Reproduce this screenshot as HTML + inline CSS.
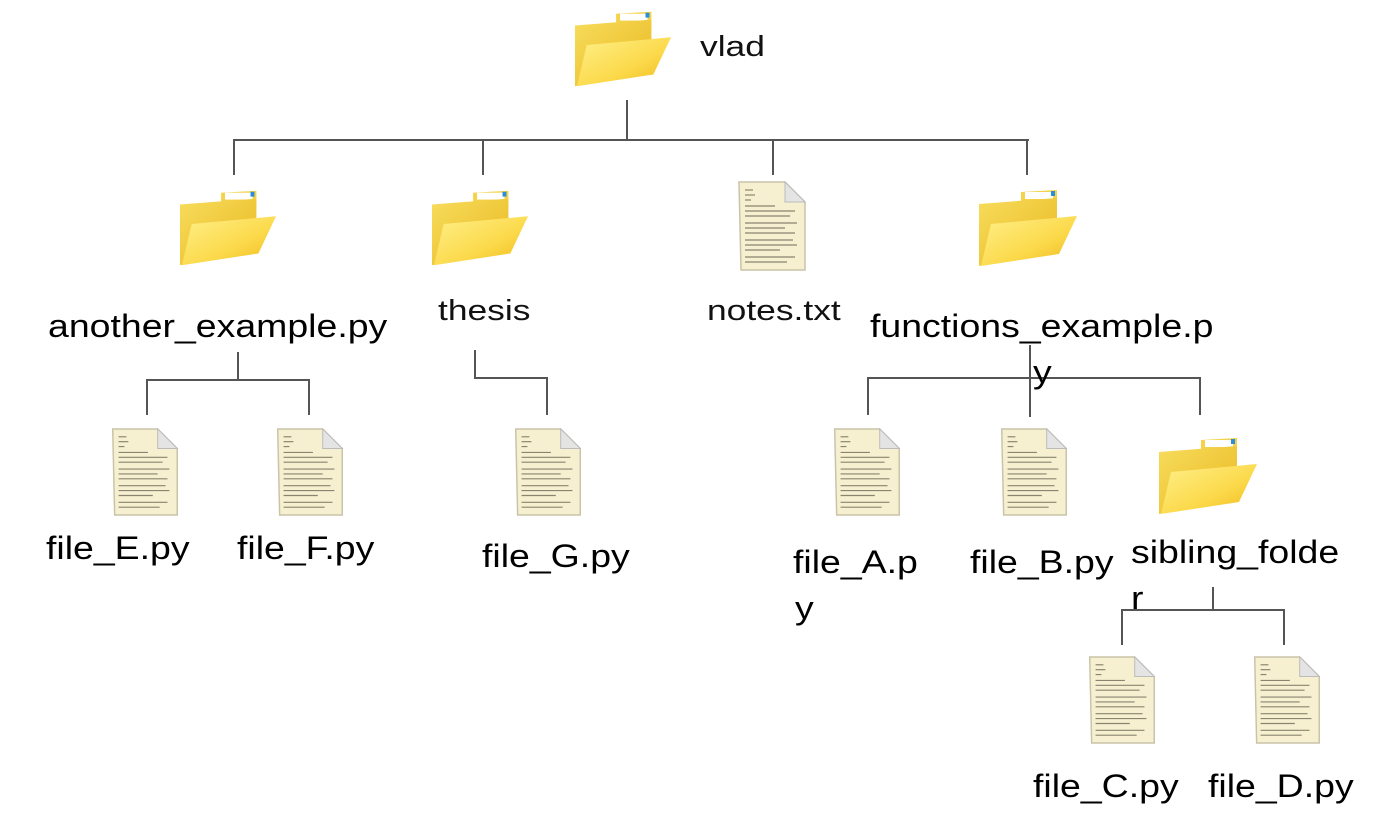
<!DOCTYPE html>
<html><head><meta charset="utf-8"><style>
body{margin:0;width:1386px;height:830px;background:#fff;position:relative;overflow:hidden;font-family:"Liberation Sans",Arial,sans-serif;}
.t{position:absolute;color:#000;white-space:nowrap;line-height:1;transform-origin:0 0;}
.s{font-size:32px;transform:scaleX(1.17);}
.m{font-size:29px;color:#111;transform:scaleX(1.22);}
svg.i{position:absolute;}
.l{position:absolute;background:#555;}
</style></head><body>
<svg width="0" height="0" style="position:absolute">
<defs>
<linearGradient id="gb" x1="0" y1="0" x2="1" y2="1"><stop offset="0" stop-color="#f7dc5c"/><stop offset="1" stop-color="#e9b820"/></linearGradient>
<linearGradient id="gf" x1="0" y1="0" x2="1" y2="1"><stop offset="0" stop-color="#fff08a"/><stop offset="0.6" stop-color="#fbd94a"/><stop offset="1" stop-color="#f0b81a"/></linearGradient>
<symbol id="fold" viewBox="0 0 100 82">
<path d="M44 6 L80 4 L80 22 L44 24Z" fill="#f4d24a"/>
<rect x="48" y="6" width="28" height="7" fill="#fff"/>
<rect x="74" y="5" width="4" height="5" fill="#2a8fd8"/>
<path d="M2 18 L80 12 L80 60 L2 80Z" fill="url(#gb)"/>
<path d="M14 38 L100 30 L82 68 L4 80Z" fill="url(#gf)"/>
</symbol>
<symbol id="doc" viewBox="0 0 72 92">
<path d="M4 2 L50 2 L70 22 L70 90 L6 90Z" fill="#f6f0d0" stroke="#c9c3a8" stroke-width="1.5"/>
<path d="M50 2 L50 22 L70 22Z" fill="#e4e4e4" stroke="#bbb" stroke-width="1"/>
<g stroke="#8a8470" stroke-width="1.2">
<line x1="10" y1="10" x2="18" y2="10"/><line x1="10" y1="15" x2="20" y2="15"/><line x1="10" y1="20" x2="16" y2="20"/>
<line x1="10" y1="26" x2="40" y2="26"/><line x1="10" y1="31" x2="60" y2="31"/><line x1="10" y1="36" x2="55" y2="36"/>
<line x1="10" y1="43" x2="62" y2="43"/><line x1="10" y1="48" x2="50" y2="48"/><line x1="10" y1="53" x2="60" y2="53"/>
<line x1="10" y1="60" x2="58" y2="60"/><line x1="10" y1="65" x2="62" y2="65"/><line x1="10" y1="70" x2="45" y2="70"/>
<line x1="10" y1="77" x2="60" y2="77"/><line x1="10" y1="82" x2="52" y2="82"/>
</g>
</symbol>
</defs></svg>

<div class="l" style="left:626px;top:100px;width:2px;height:41px"></div>
<div class="l" style="left:233px;top:139px;width:796px;height:2px"></div>
<div class="l" style="left:233px;top:139px;width:2px;height:36px"></div>
<div class="l" style="left:482px;top:139px;width:2px;height:36px"></div>
<div class="l" style="left:772px;top:139px;width:2px;height:36px"></div>
<div class="l" style="left:1026px;top:139px;width:2px;height:36px"></div>

<div class="l" style="left:237px;top:352px;width:2px;height:29px"></div>
<div class="l" style="left:146px;top:379px;width:164px;height:2px"></div>
<div class="l" style="left:146px;top:379px;width:2px;height:36px"></div>
<div class="l" style="left:308px;top:379px;width:2px;height:36px"></div>

<div class="l" style="left:474px;top:350px;width:2px;height:29px"></div>
<div class="l" style="left:474px;top:377px;width:74px;height:2px"></div>
<div class="l" style="left:546px;top:377px;width:2px;height:38px"></div>

<div class="l" style="left:867px;top:377px;width:334px;height:2px"></div>
<div class="l" style="left:867px;top:377px;width:2px;height:38px"></div>
<div class="l" style="left:1029px;top:345px;width:2px;height:72px"></div>
<div class="l" style="left:1199px;top:377px;width:2px;height:38px"></div>

<div class="l" style="left:1212px;top:587px;width:2px;height:24px"></div>
<div class="l" style="left:1121px;top:609px;width:164px;height:2px"></div>
<div class="l" style="left:1121px;top:609px;width:2px;height:36px"></div>
<div class="l" style="left:1283px;top:609px;width:2px;height:36px"></div>

<svg class="i" style="left:573px;top:7px" width="98" height="82"><use href="#fold"/></svg>
<svg class="i" style="left:178px;top:186px" width="98" height="82"><use href="#fold"/></svg>
<svg class="i" style="left:430px;top:186px" width="98" height="82"><use href="#fold"/></svg>
<svg class="i" style="left:977px;top:186px" width="100" height="82"><use href="#fold"/></svg>
<svg class="i" style="left:1157px;top:434px" width="100" height="82"><use href="#fold"/></svg>
<svg class="i" style="left:735px;top:180px" width="72" height="92"><use href="#doc"/></svg>
<svg class="i" style="left:108px;top:427px" width="72" height="90"><use href="#doc"/></svg>
<svg class="i" style="left:273px;top:427px" width="72" height="90"><use href="#doc"/></svg>
<svg class="i" style="left:511px;top:427px" width="72" height="90"><use href="#doc"/></svg>
<svg class="i" style="left:830px;top:427px" width="72" height="90"><use href="#doc"/></svg>
<svg class="i" style="left:997px;top:427px" width="72" height="90"><use href="#doc"/></svg>
<svg class="i" style="left:1085px;top:655px" width="72" height="90"><use href="#doc"/></svg>
<svg class="i" style="left:1250px;top:655px" width="72" height="90"><use href="#doc"/></svg>

<div class="t m" style="left:700px;top:33px">vlad</div>
<div class="t m" style="left:438px;top:297px">thesis</div>
<div class="t m" style="left:707px;top:297px">notes.txt</div>
<div class="t s" style="left:48px;top:310px">another_example.py</div>
<div class="t s" style="left:870px;top:310px">functions_example.p</div>
<div class="t s" style="left:1033px;top:356px">y</div>
<div class="t s" style="left:46px;top:532px">file_E.py</div>
<div class="t s" style="left:237px;top:532px">file_F.py</div>
<div class="t s" style="left:482px;top:540px">file_G.py</div>
<div class="t s" style="left:793px;top:546px">file_A.p</div>
<div class="t s" style="left:795px;top:592px">y</div>
<div class="t s" style="left:970px;top:546px">file_B.py</div>
<div class="t s" style="left:1131px;top:536px">sibling_folde</div>
<div class="t s" style="left:1131px;top:582px">r</div>
<div class="t s" style="left:1033px;top:770px">file_C.py</div>
<div class="t s" style="left:1208px;top:770px">file_D.py</div>
</body></html>
